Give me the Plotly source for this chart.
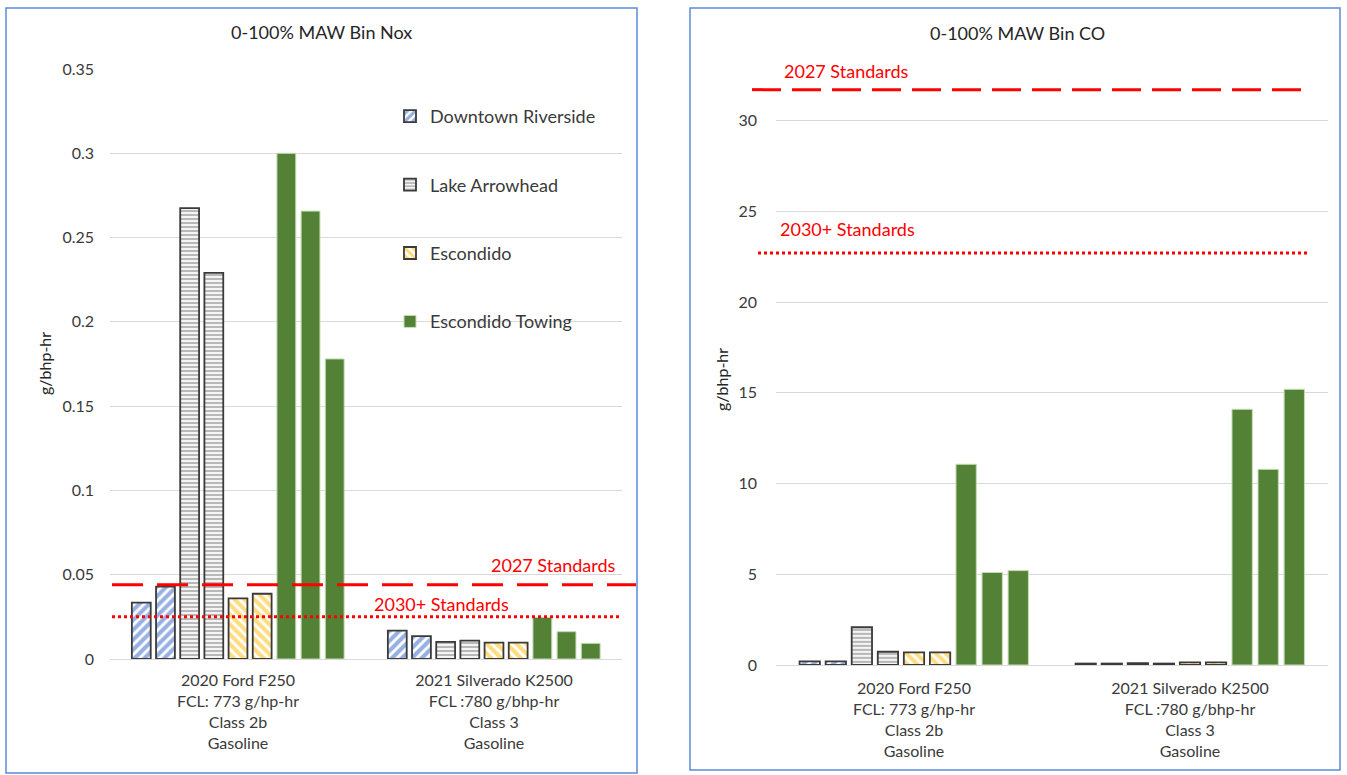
import plotly.graph_objects as go

# ---------------- data ----------------
vehicles = ["2020 Ford F250", "2021 Silverado K2500"]
vehicle_labels = [
    "2020 Ford F250<br>FCL: 773 g/hp-hr<br>Class 2b<br>Gasoline",
    "2021 Silverado K2500<br>FCL :780 g/bhp-hr<br>Class 3<br>Gasoline",
]
locations = ["Downtown Riverside", "Lake Arrowhead", "Escondido", "Escondido Towing"]
# test runs per location (one trace per run)
run_location = [0, 0, 1, 1, 2, 2, 3, 3, 3]

# NOx (g/bhp-hr) per run: [Ford F250, Silverado K2500]
nox_runs = [
    [0.0334, 0.0168],
    [0.0429, 0.0136],
    [0.2675, 0.0101],
    [0.2290, 0.0109],
    [0.0360, 0.0097],
    [0.0387, 0.0097],
    [0.3000, 0.0247],
    [0.2657, 0.0162],
    [0.1780, 0.0093],
]
# CO (g/bhp-hr) per run: [Ford F250, Silverado K2500]
co_runs = [
    [0.20, 0.08],
    [0.20, 0.08],
    [2.08, 0.10],
    [0.73, 0.08],
    [0.70, 0.14],
    [0.70, 0.14],
    [11.06, 14.09],
    [5.10, 10.78],
    [5.20, 15.19],
]

nox_std_2027 = 0.044
nox_std_2030 = 0.025
co_std_2027 = 31.7
co_std_2030 = 22.7

nox_ticks = [0, 0.05, 0.1, 0.15, 0.2, 0.25, 0.3, 0.35]
nox_ticktext = ["0", "0.05", "0.1", "0.15", "0.2", "0.25", "0.3", "0.35"]
co_ticks = [0, 5, 10, 15, 20, 25, 30]
co_ticktext = ["0", "5", "10", "15", "20", "25", "30"]

# ---------------- styles ----------------
FONT = "Lato"
RED = "#FF0000"
styles = [
    dict(color="white", line=dict(color="#3A3A3A", width=1.8),
         pattern=dict(shape="/", fgcolor="#2F62C4", bgcolor="white", size=7, solidity=0.58)),
    dict(color="white", line=dict(color="#3A3A3A", width=1.8),
         pattern=dict(shape="-", fgcolor="#6E6E6E", bgcolor="#F4F4F4", size=4, solidity=0.45)),
    dict(color="white", line=dict(color="#3A3A3A", width=1.8),
         pattern=dict(shape="\\", fgcolor="#FFBA00", bgcolor="white", size=7, solidity=0.58)),
    dict(color="#538135", line=dict(color="#C5DDB5", width=1)),
]

fig = go.Figure()

shown = set()
for i, loc_idx in enumerate(run_location):
    st = styles[loc_idx]
    show = loc_idx not in shown
    shown.add(loc_idx)
    fig.add_trace(go.Bar(
        x=vehicles, y=nox_runs[i], name=locations[loc_idx],
        legendgroup=locations[loc_idx], showlegend=show,
        marker=st, xaxis="x", yaxis="y", offsetgroup=str(i),
    ))
for i, loc_idx in enumerate(run_location):
    st = styles[loc_idx]
    fig.add_trace(go.Bar(
        x=vehicles, y=co_runs[i], name=locations[loc_idx],
        legendgroup=locations[loc_idx], showlegend=False,
        marker=st, xaxis="x2", yaxis="y2", offsetgroup=str(i),
    ))

W, H = 1347, 775

def px_x(v):
    return v / W

def px_y(v):
    return 1 - v / H

grid = "#D9D9D9"
tickfont = dict(family=FONT, size=16, color="#3A3A3A")
catfont = dict(family=FONT, size=16, color="#3A3A3A")

fig.update_layout(
    width=W, height=H,
    margin=dict(l=0, r=0, t=0, b=0, pad=0, autoexpand=False),
    paper_bgcolor="white", plot_bgcolor="white",
    barmode="group", bargap=0.15, bargroupgap=0.22,
    font=dict(family=FONT, color="#404040"),
    xaxis=dict(domain=[px_x(110), px_x(622)], type="category", automargin=False,
               tickvals=vehicles, ticktext=vehicle_labels, tickfont=catfont,
               showgrid=False, showline=True, linecolor=grid, linewidth=1,
               ticks="", ticklabelstandoff=7, anchor="y"),
    yaxis=dict(domain=[px_y(659), px_y(69)], range=[0, 0.35], automargin=False,
               tickvals=nox_ticks, ticktext=nox_ticktext, tickfont=tickfont,
               showgrid=True, gridcolor=grid, gridwidth=1, zeroline=False,
               showline=False, ticks="", ticklabelstandoff=15, anchor="x"),
    xaxis2=dict(domain=[px_x(776), px_x(1328)], type="category", automargin=False,
                tickvals=vehicles, ticktext=vehicle_labels, tickfont=catfont,
                showgrid=False, showline=True, linecolor=grid, linewidth=1,
                ticks="", ticklabelstandoff=9, anchor="y2"),
    yaxis2=dict(domain=[px_y(665), px_y(665 - 34 * 18.15)], range=[0, 34], automargin=False,
                tickvals=co_ticks, ticktext=co_ticktext, tickfont=tickfont,
                showgrid=True, gridcolor=grid, gridwidth=1, zeroline=False,
                showline=False, ticks="", ticklabelstandoff=18, anchor="x2"),
    legend=dict(x=px_x(390), y=px_y(98), xanchor="left", yanchor="top",
                bgcolor="rgba(0,0,0,0)", traceorder="grouped",
                tracegroupgap=42, font=dict(family=FONT, size=18, color="#3A3A3A")),
    showlegend=True,
)

shapes = [
    # panel borders
    dict(type="rect", xref="paper", yref="paper", x0=px_x(6), x1=px_x(637),
         y0=px_y(773), y1=px_y(8), line=dict(color="#5B8BD6", width=1.5), layer="below"),
    dict(type="rect", xref="paper", yref="paper", x0=px_x(690), x1=px_x(1340),
         y0=px_y(770), y1=px_y(8), line=dict(color="#5B8BD6", width=1.5), layer="below"),
    # standards NOx
    dict(type="line", xref="paper", yref="y", x0=px_x(112), x1=px_x(636),
         y0=nox_std_2027, y1=nox_std_2027, line=dict(color=RED, width=3, dash="31px,14px")),
    dict(type="line", xref="paper", yref="y", x0=px_x(112), x1=px_x(620),
         y0=nox_std_2030, y1=nox_std_2030, line=dict(color=RED, width=3, dash="3px,3px")),
    # standards CO
    dict(type="line", xref="paper", yref="y2", x0=px_x(752), x1=px_x(1302),
         y0=co_std_2027, y1=co_std_2027, line=dict(color=RED, width=3, dash="29px,11px")),
    dict(type="line", xref="paper", yref="y2", x0=px_x(758), x1=px_x(1307),
         y0=co_std_2030, y1=co_std_2030, line=dict(color=RED, width=3, dash="3px,3px")),
]
fig.update_layout(shapes=shapes)

std_font = dict(family=FONT, size=18, color=RED)
annotations = [
    dict(text="0-100% MAW Bin Nox", xref="paper", yref="paper", x=px_x(321), y=px_y(32),
         xanchor="center", yanchor="middle", showarrow=False,
         font=dict(family=FONT, size=18, color="#262626")),
    dict(text="0-100% MAW Bin CO", xref="paper", yref="paper", x=px_x(1017), y=px_y(33),
         xanchor="center", yanchor="middle", showarrow=False,
         font=dict(family=FONT, size=18, color="#262626")),
    dict(text="g/bhp-hr", xref="paper", yref="paper", x=px_x(44), y=px_y(364),
         xanchor="center", yanchor="middle", textangle=-90, showarrow=False,
         font=dict(family=FONT, size=16, color="#262626")),
    dict(text="g/bhp-hr", xref="paper", yref="paper", x=px_x(722), y=px_y(380),
         xanchor="center", yanchor="middle", textangle=-90, showarrow=False,
         font=dict(family=FONT, size=16, color="#262626")),
    dict(text="2027 Standards", xref="paper", yref="y", x=px_x(617), y=nox_std_2027,
         xanchor="right", yanchor="bottom", yshift=7, showarrow=False, font=std_font),
    dict(text="2030+ Standards", xref="paper", yref="y", x=px_x(372), y=nox_std_2030,
         xanchor="left", yanchor="bottom", yshift=0, showarrow=False, font=std_font),
    dict(text="2027 Standards", xref="paper", yref="y2", x=px_x(782), y=co_std_2027,
         xanchor="left", yanchor="bottom", yshift=6, showarrow=False, font=std_font),
    dict(text="2030+ Standards", xref="paper", yref="y2", x=px_x(778), y=co_std_2030,
         xanchor="left", yanchor="bottom", yshift=11, showarrow=False, font=std_font),
]
fig.update_layout(annotations=annotations)

fig.write_html("out.html")
